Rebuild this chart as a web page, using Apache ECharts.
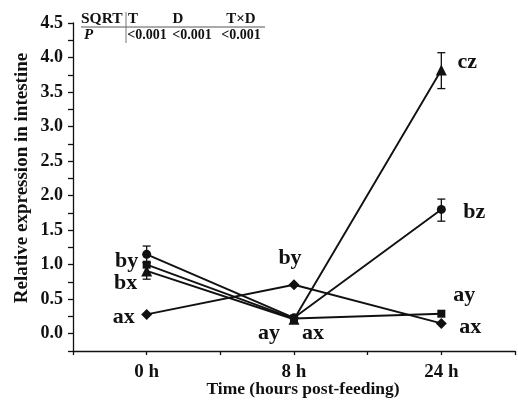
<!DOCTYPE html>
<html>
<head>
<meta charset="utf-8">
<script src="https://cdn.jsdelivr.net/npm/echarts@6/dist/echarts.min.js"></script>
<style>
  html, body { margin: 0; padding: 0; background: #fff; }
  #chart { width: 518px; height: 402px; }
</style>
</head>
<body>
<div id="chart"></div>
<script>
// time points (x positions 0,1,2 on the axis)
const timeLabels = ['0 h', '8 h', '24 h']

// mean values per group
const circleVals = [1.15, 0.23, 1.80]
const squareVals = [1.00, 0.22, 0.29]
const triangleVals = [0.91, 0.21, 3.82]
const diamondVals = [0.28, 0.71, 0.15]

// error bars (low / high), null = none visible
const circleLow = [1.03, null, 1.63]
const circleHigh = [1.27, null, 1.95]
const triangleLow = [0.79, null, 3.55]
const triangleHigh = [1.03, null, 4.07]

// significance letters
const circleLetters = ['by', '', 'bz']
const squareLetters = ['', 'ay', 'ay']
const triangleLetters = ['bx', 'ax', 'cz']
const diamondLetters = ['ax', 'by', 'ax']

// table of P values
const tableHead = ['T', 'D', 'T×D']
const tableP = ['<0.001', '<0.001', '<0.001']

const FONT = '"Liberation Serif", "DejaVu Serif", serif'
const INK = '#111'

// label offsets (pixels from the marker) — styling only
const circleOffsets = [[-20, 7], null, [33, 3]]
const squareOffsets = [null, [-25, 15], [23, -18]]
const triangleOffsets = [[-21, 12], [19, 14], [26, -8]]
const diamondOffsets = [[-23, 3], [-4, -26], [29, 4]]

function makeData(vals, letters, offsets) {
  return vals.map((v, i) => ({
    value: [i, v],
    label: letters[i]
      ? {
          show: true,
          position: 'inside',
          offset: offsets[i],
          formatter: letters[i],
          fontFamily: FONT,
          fontWeight: 'bold',
          fontSize: 22,
          color: INK
        }
      : { show: false }
  }))
}

function lineSeries(name, vals, letters, offsets, symbol, size) {
  return {
    name,
    type: 'line',
    data: makeData(vals, letters, offsets),
    symbol,
    symbolSize: size,
    lineStyle: { color: INK, width: 1.9 },
    itemStyle: { color: INK },
    z: 3
  }
}

function errorSeries(low, high) {
  const data = []
  low.forEach((l, i) => {
    if (l !== null) data.push([i, l, high[i]])
  })
  return {
    type: 'custom',
    data,
    z: 2,
    renderItem(params, api) {
      const x = api.value(0)
      const lo = api.coord([x, api.value(1)])
      const hi = api.coord([x, api.value(2)])
      const w = 4
      const style = { stroke: INK, lineWidth: 1.3 }
      return {
        type: 'group',
        children: [
          { type: 'line', shape: { x1: lo[0], y1: lo[1], x2: hi[0], y2: hi[1] }, style },
          { type: 'line', shape: { x1: lo[0] - w, y1: lo[1], x2: lo[0] + w, y2: lo[1] }, style },
          { type: 'line', shape: { x1: hi[0] - w, y1: hi[1], x2: hi[0] + w, y2: hi[1] }, style }
        ]
      }
    }
  }
}

const colX = [133, 178, 241]
const pX = [147, 192, 241]
const tableText = { fontFamily: FONT, fontWeight: 'bold', fontSize: 14, fill: INK }

const chart = echarts.init(document.getElementById('chart'))
chart.setOption({
  animation: false,
  grid: { left: 73, right: -5, top: 23, bottom: 51 },
  xAxis: {
    type: 'value',
    min: -0.5,
    max: 2.5,
    interval: 0.5,
    splitLine: { show: false },
    axisLine: { onZero: false, lineStyle: { color: INK, width: 1.3 } },
    axisTick: { length: 4, lineStyle: { color: INK, width: 1.3 } },
    axisLabel: {
      margin: 12,
      fontFamily: FONT,
      fontWeight: 'bold',
      fontSize: 19,
      color: INK,
      formatter: v => (Number.isInteger(v) && timeLabels[v]) ? timeLabels[v] : ''
    }
  },
  yAxis: {
    type: 'value',
    min: -0.25,
    max: 4.5,
    interval: 0.25,
    splitLine: { show: false },
    axisLine: { onZero: false, lineStyle: { color: INK, width: 1.3 } },
    axisTick: { length: 5, lineStyle: { color: INK, width: 1.3 } },
    axisLabel: {
      margin: 10,
      fontFamily: FONT,
      fontWeight: 'bold',
      fontSize: 18,
      color: INK,
      formatter: v => Math.abs(v * 2 - Math.round(v * 2)) < 1e-6 ? v.toFixed(1) : ''
    }
  },
  graphic: [
    {
      type: 'text', x: 22, y: 178, rotation: Math.PI / 2,
      style: { text: 'Relative expression in intestine', fontFamily: FONT, fontWeight: 'bold', fontSize: 19, fill: INK, align: 'center', verticalAlign: 'middle' }
    },
    {
      type: 'text', x: 303, y: 389,
      style: { text: 'Time (hours post-feeding)', fontFamily: FONT, fontWeight: 'bold', fontSize: 17.5, fill: INK, align: 'center', verticalAlign: 'middle' }
    },
    // table
    { type: 'line', shape: { x1: 81, y1: 27, x2: 265, y2: 27 }, style: { stroke: '#555', lineWidth: 1 } },
    { type: 'line', shape: { x1: 126, y1: 12, x2: 126, y2: 43 }, style: { stroke: '#777', lineWidth: 1 } },
    { type: 'text', x: 81, y: 19, style: Object.assign({}, tableText, { text: 'SQRT', fontSize: 15.5, align: 'left', verticalAlign: 'middle' }) },
    { type: 'text', x: 84, y: 35, style: Object.assign({}, tableText, { text: 'P', fontSize: 15, fontStyle: 'italic', align: 'left', verticalAlign: 'middle' }) },
    ...tableHead.map((t, i) => ({
      type: 'text', x: colX[i], y: 19,
      style: Object.assign({}, tableText, { text: t, fontSize: 15, align: 'center', verticalAlign: 'middle' })
    })),
    ...tableP.map((t, i) => ({
      type: 'text', x: pX[i], y: 35,
      style: Object.assign({ text: t, align: 'center', verticalAlign: 'middle' }, tableText)
    }))
  ],
  series: [
    errorSeries(circleLow, circleHigh),
    errorSeries(triangleLow, triangleHigh),
    lineSeries('circle', circleVals, circleLetters, circleOffsets, 'circle', 9),
    lineSeries('square', squareVals, squareLetters, squareOffsets, 'rect', 8),
    lineSeries('triangle', triangleVals, triangleLetters, triangleOffsets, 'triangle', 11),
    lineSeries('diamond', diamondVals, diamondLetters, diamondOffsets, 'diamond', 11)
  ]
})
</script>
</body>
</html>
